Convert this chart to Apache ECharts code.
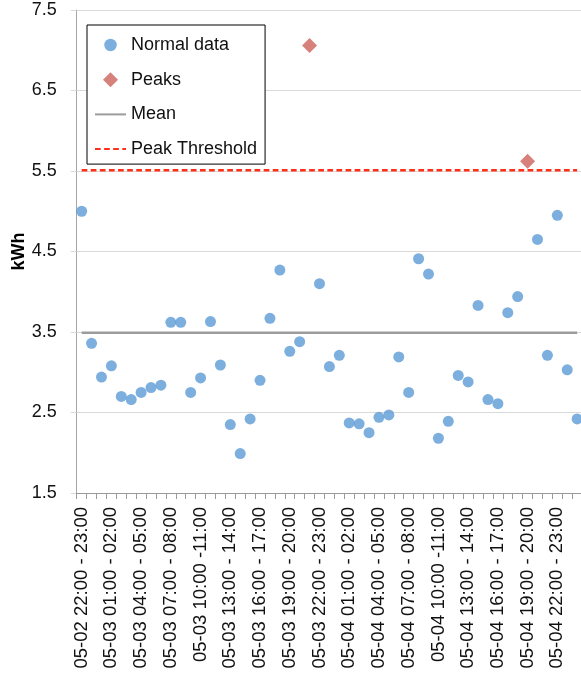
<!DOCTYPE html>
<html>
<head>
<meta charset="utf-8">
<script src="https://cdn.jsdelivr.net/npm/echarts@6/dist/echarts.min.js"></script>
<style>
  html, body { margin: 0; padding: 0; background: #fff; }
  #chart { width: 581px; height: 675px; }
</style>
</head>
<body>
<div id="chart"></div>
<script>
// Hourly consumption buckets
const categories = [
  '05-02 22:00 - 23:00', '05-02 23:00 - 00:00',
  '05-03 00:00 - 01:00', '05-03 01:00 - 02:00', '05-03 02:00 - 03:00', '05-03 03:00 - 04:00',
  '05-03 04:00 - 05:00', '05-03 05:00 - 06:00', '05-03 06:00 - 07:00', '05-03 07:00 - 08:00',
  '05-03 08:00 - 09:00', '05-03 09:00 - 10:00', '05-03 10:00 -11:00', '05-03 11:00 - 12:00',
  '05-03 12:00 - 13:00', '05-03 13:00 - 14:00', '05-03 14:00 - 15:00', '05-03 15:00 - 16:00',
  '05-03 16:00 - 17:00', '05-03 17:00 - 18:00', '05-03 18:00 - 19:00', '05-03 19:00 - 20:00',
  '05-03 20:00 - 21:00', '05-03 21:00 - 22:00', '05-03 22:00 - 23:00', '05-03 23:00 - 00:00',
  '05-04 00:00 - 01:00', '05-04 01:00 - 02:00', '05-04 02:00 - 03:00', '05-04 03:00 - 04:00',
  '05-04 04:00 - 05:00', '05-04 05:00 - 06:00', '05-04 06:00 - 07:00', '05-04 07:00 - 08:00',
  '05-04 08:00 - 09:00', '05-04 09:00 - 10:00', '05-04 10:00 -11:00', '05-04 11:00 - 12:00',
  '05-04 12:00 - 13:00', '05-04 13:00 - 14:00', '05-04 14:00 - 15:00', '05-04 15:00 - 16:00',
  '05-04 16:00 - 17:00', '05-04 17:00 - 18:00', '05-04 18:00 - 19:00', '05-04 19:00 - 20:00',
  '05-04 20:00 - 21:00', '05-04 21:00 - 22:00', '05-04 22:00 - 23:00', '05-04 23:00 - 00:00',
  '05-05 00:00 - 01:00'
];

// kWh per hour (null where the hour is flagged as a peak)
const normalData = [
  5.00, 3.36, 2.94, 3.08, 2.70, 2.66, 2.75, 2.81, 2.84, 3.62,
  3.62, 2.75, 2.93, 3.63, 3.09, 2.35, 1.99, 2.42, 2.90, 3.67,
  4.27, 3.26, 3.38, null, 4.10, 3.07, 3.21, 2.37, 2.36, 2.25,
  2.44, 2.47, 3.19, 2.75, 4.41, 4.22, 2.18, 2.39, 2.96, 2.88,
  3.83, 2.66, 2.61, 3.74, 3.94, null, 4.65, 3.21, 4.95, 3.03,
  2.42
];

// Hours above the threshold
const peakCategories = ['05-03 21:00 - 22:00', '05-04 19:00 - 20:00'];
const peakValues = [7.06, 5.62];

const MEAN = 3.49;
const PEAK_THRESHOLD = 5.51;

const yTicks = [1.5, 2.5, 3.5, 4.5, 5.5, 6.5, 7.5];

const FONT = '"Liberation Sans", Arial, sans-serif';
const firstCat = categories[0];
const lastCat = categories[categories.length - 1];

const COLOR_NORMAL = '#5b9bd5';
const COLOR_PEAK = '#cd625c';
const COLOR_MEAN = '#9c9c9c';
const COLOR_THRESHOLD = '#ff2f17';

// Legend glyphs: a 10px dot padded to a 12px box, and a full 12px diamond
const ICON_DOT = 'path://M0,0M12,12M1,6A5,5,0,1,1,11,6A5,5,0,1,1,1,6Z';
const ICON_DIAMOND = 'path://M6,0L12,6L6,12L0,6Z';

const chart = echarts.init(document.getElementById('chart'), null, { renderer: 'canvas' });

chart.setOption({
  animation: false,
  backgroundColor: '#ffffff',
  textStyle: { fontFamily: FONT },
  grid: { left: 76.7, right: -1.1, top: 10, bottom: 182, outerBoundsMode: 'none' },
  legend: {
    orient: 'vertical',
    left: 87,
    top: 25,
    backgroundColor: '#ffffff',
    borderColor: '#000000',
    borderWidth: 1,
    borderRadius: 0,
    padding: [10, 8, 5, 7],
    itemGap: 14.7,
    itemWidth: 31,
    itemHeight: 15,
    symbolKeepAspect: true,
    textStyle: { fontFamily: FONT, fontSize: 18, color: '#111', lineHeight: 20 },
    data: [
      { name: 'Normal data', icon: ICON_DOT },
      { name: 'Peaks', icon: ICON_DIAMOND },
      { name: 'Mean', itemStyle: { opacity: 0 } },
      { name: 'Peak Threshold', itemStyle: { opacity: 0 } }
    ]
  },
  xAxis: {
    type: 'category',
    data: categories,
    boundaryGap: true,
    axisLine: { show: true, lineStyle: { color: '#9a9a9a', width: 1 } },
    axisTick: { show: true, interval: 0, length: 6, lineStyle: { color: '#9a9a9a' } },
    axisLabel: {
      interval: 2,
      rotate: 90,
      margin: 14,
      fontFamily: FONT,
      fontSize: 18.5,
      color: '#111'
    },
    splitLine: { show: false }
  },
  yAxis: {
    type: 'value',
    min: 1.5,
    max: 7.5,
    name: 'kWh',
    nameLocation: 'middle',
    nameGap: 49,
    nameMoveOverlap: false,
    nameTextStyle: { fontFamily: FONT, fontWeight: 'bold', fontSize: 18, color: '#000' },
    axisLine: { show: true, lineStyle: { color: '#a6a6a6', width: 1 } },
    axisTick: { show: true, customValues: yTicks, length: 6, lineStyle: { color: '#d9d9d9' } },
    axisLabel: {
      customValues: yTicks,
      margin: 20,
      fontFamily: FONT,
      fontSize: 18,
      color: '#111',
      formatter: v => v.toFixed(1)
    },
    splitLine: { show: true, lineStyle: { color: '#d9d9d9', width: 1 } }
  },
  series: [
    {
      name: 'Mean',
      type: 'line',
      data: [[firstCat, MEAN], [lastCat, MEAN]],
      symbol: 'none',
      lineStyle: { color: COLOR_MEAN, width: 2.6 },
      itemStyle: { color: COLOR_MEAN },
      z: 2
    },
    {
      name: 'Peak Threshold',
      type: 'line',
      data: [[firstCat, PEAK_THRESHOLD], [lastCat, PEAK_THRESHOLD]],
      symbol: 'none',
      lineStyle: { color: COLOR_THRESHOLD, width: 2.6, type: [5.7, 3.4] },
      itemStyle: { color: COLOR_THRESHOLD },
      z: 2
    },
    {
      name: 'Normal data',
      type: 'scatter',
      data: normalData,
      symbol: 'circle',
      symbolSize: 11,
      itemStyle: { color: COLOR_NORMAL },
      z: 3
    },
    {
      name: 'Peaks',
      type: 'scatter',
      data: peakCategories.map((c, i) => [c, peakValues[i]]),
      symbol: 'diamond',
      symbolSize: 15,
      itemStyle: { color: COLOR_PEAK },
      z: 3
    }
  ]
});
</script>
</body>
</html>
